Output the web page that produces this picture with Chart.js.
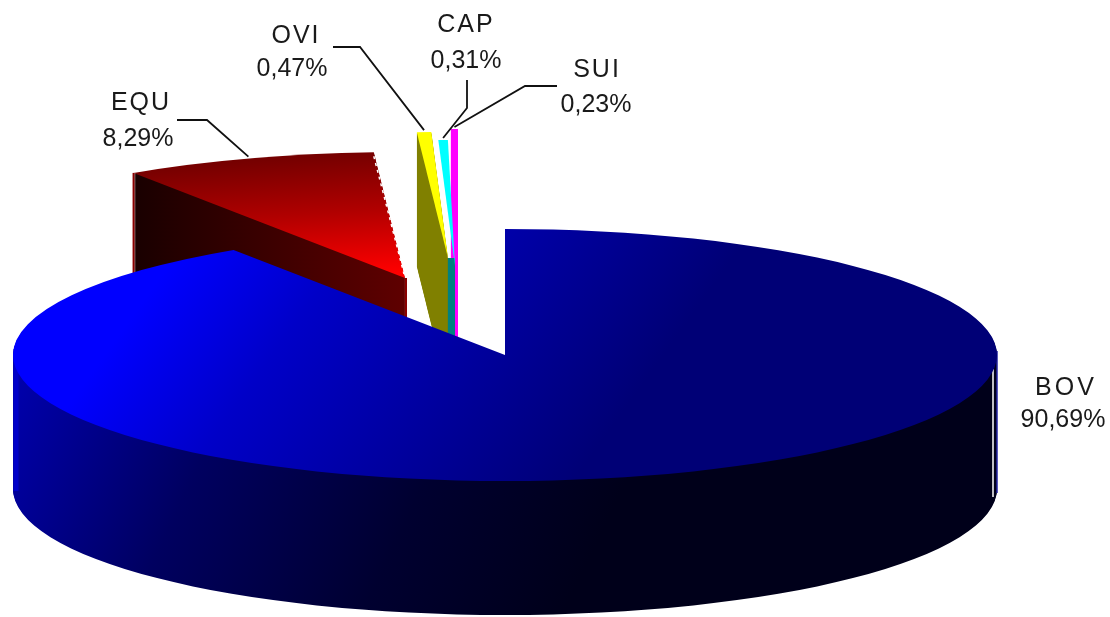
<!DOCTYPE html>
<html>
<head>
<meta charset="utf-8">
<style>
  html, body { margin: 0; background: #fff; }
  canvas { display: block; filter: blur(0.6px); }
</style>
<script src="https://cdn.jsdelivr.net/npm/chart.js@4/dist/chart.umd.min.js"></script>
</head>
<body>
<canvas id="pieChart" width="1110" height="617"></canvas>
<script>
const categories = ['BOV', 'EQU', 'OVI', 'CAP', 'SUI'];
const shares = [90.69, 8.29, 0.47, 0.31, 0.23];
const sliceColors = ['#0000ff', '#ff0000', '#ffff00', '#00ffff', '#ff00ff'];

// look of the fake 3d pie, one entry per slice
const look = {
  radiusX: 492,
  radiusY: 126,
  depth: 134,
  explode: [[0, 0], [-100, -77], [-57, -97], [-50, -89], [-47, -100]],
  top: [
    { from: [190, 235], to: [560, 500], stops: [[0, '#0000ff'], [0.3, '#0000c8'], [0.6, '#0000a4'], [1, '#000076']] },
    { from: [290, 150], to: [300, 280], stops: [[0, '#6e0000'], [0.5, '#b00000'], [1, '#ff0000']] },
    null, null, null
  ],
  wall: [
    { from: [15, 360], to: [560, 620], stops: [[0, '#0000b0'], [0.35, '#000060'], [0.7, '#000030'], [1, '#00001a']] },
    { from: [130, 0], to: [410, 0], stops: [[0, '#180000'], [1, '#600000']] },
    { color: '#808000' },
    { color: '#008080' },
    { color: '#ff00ff' }
  ],
  // walls of these slices only show below their point
  wallBelowPoint: [false, false, false, true, false]
};

const leaders = [
  null,
  [[177, 120], [207, 120]],
  [[333, 47], [360, 47]],
  [[467, 80], [467, 108]],
  [[557, 86], [525, 86]]
];
const labelSpots = [
  [1066, 395, 1063, 427],
  [141, 110, 138, 146],
  [296, 43, 292, 76],
  [466, 32, 466, 68],
  [597, 77, 596, 112]
];

function paint(ctx, spec, fallback) {
  if (!spec) return fallback;
  if (spec.color) return spec.color;
  const g = ctx.createLinearGradient(spec.from[0], spec.from[1], spec.to[0], spec.to[1]);
  spec.stops.forEach(s => g.addColorStop(s[0], s[1]));
  return g;
}

function wedge(ctx, arc, ox, oy) {
  const r = arc.outerRadius;
  ctx.save();
  ctx.translate(arc.x + ox, arc.y + oy);
  ctx.scale(look.radiusX / r, look.radiusY / r);
  ctx.beginPath();
  ctx.moveTo(0, 0);
  ctx.arc(0, 0, r, arc.startAngle, arc.endAngle);
  ctx.closePath();
  ctx.restore();
}

function rimPoint(arc, i, angle) {
  return [
    arc.x + look.explode[i][0] + look.radiusX * Math.cos(angle),
    arc.y + look.explode[i][1] + look.radiusY * Math.sin(angle)
  ];
}

function edge(ctx, color, width, x, y1, y2) {
  ctx.strokeStyle = color;
  ctx.lineWidth = width;
  ctx.beginPath();
  ctx.moveTo(x, y1);
  ctx.lineTo(x, y2);
  ctx.stroke();
}

const pie3d = {
  id: 'pie3d',
  beforeDatasetsDraw(chart) {
    const ctx = chart.ctx;
    const arcs = chart.getDatasetMeta(0).data;
    for (let i = arcs.length - 1; i >= 0; i--) {
      const arc = arcs[i];
      const [ox, oy] = look.explode[i];
      ctx.save();
      if (look.wallBelowPoint[i]) {
        ctx.beginPath();
        ctx.rect(0, arc.y + oy - 8, chart.width, chart.height);
        ctx.clip();
      }
      ctx.fillStyle = paint(ctx, look.wall[i]);
      for (let d = look.depth; d > 0; d--) {
        wedge(ctx, arc, ox, oy + d);
        ctx.fill();
      }
      ctx.restore();
      if (i === 0) {
        // pale rim on the right and lighter strip on the left of the big slice
        const right = rimPoint(arc, i, 0);
        const left = rimPoint(arc, i, Math.PI);
        edge(ctx, '#fff', 1.5, right[0] - 4, right[1] + 14, right[1] + look.depth + 8);
        edge(ctx, '#2020a0', 1.5, right[0], right[1] - 4, right[1] + look.depth + 4);
        edge(ctx, '#0000c8', 5, left[0] + 3, left[1] - 6, left[1] + look.depth + 2);
      }
      if (i === 1) {
        // equ slice has dark red corner edges
        const left = rimPoint(arc, i, arc.startAngle);
        edge(ctx, '#8a0000', 2, left[0], left[1], left[1] + look.depth);
        edge(ctx, '#8a0000', 2, arc.x + ox + 1, arc.y + oy, arc.y + oy + look.depth);
      }
      wedge(ctx, arc, ox, oy);
      ctx.fillStyle = paint(ctx, look.top[i], arc.options.backgroundColor);
      ctx.fill();
      if (i === 1) {
        const right = rimPoint(arc, i, arc.endAngle);
        ctx.strokeStyle = '#fff';
        ctx.lineWidth = 1.5;
        ctx.setLineDash([3, 4]);
        ctx.beginPath();
        ctx.moveTo(right[0], right[1] + 4);
        ctx.lineTo(arc.x + ox - 1, arc.y + oy - 4);
        ctx.stroke();
        ctx.setLineDash([]);
      }
    }
    return false;
  },
  afterDraw(chart) {
    const ctx = chart.ctx;
    const arcs = chart.getDatasetMeta(0).data;
    ctx.save();
    ctx.strokeStyle = '#111';
    ctx.lineWidth = 1.8;
    ctx.fillStyle = '#1a1a1a';
    ctx.font = '25px "Liberation Sans"';
    ctx.textAlign = 'center';
    arcs.forEach((arc, i) => {
      if (leaders[i]) {
        const end = rimPoint(arc, i, (arc.startAngle + arc.endAngle) / 2);
        ctx.beginPath();
        ctx.moveTo(leaders[i][0][0], leaders[i][0][1]);
        ctx.lineTo(leaders[i][1][0], leaders[i][1][1]);
        ctx.lineTo(end[0], end[1] - 2);
        ctx.stroke();
      }
      const s = labelSpots[i];
      ctx.letterSpacing = i === 0 ? '3px' : '2px';
      ctx.fillText(categories[i], s[0], s[1]);
      ctx.letterSpacing = '0px';
      ctx.fillText(shares[i].toFixed(2).replace('.', ',') + '%', s[2], s[3]);
    });
    ctx.restore();
  }
};

new Chart(document.getElementById('pieChart'), {
  type: 'pie',
  data: {
    labels: categories,
    datasets: [{ data: shares, backgroundColor: sliceColors, borderWidth: 0 }]
  },
  options: {
    responsive: false,
    animation: false,
    layout: { padding: { top: 93, right: 100 } },
    plugins: { legend: { display: false }, tooltip: { enabled: false } }
  },
  plugins: [pie3d]
});
</script>
</body>
</html>
